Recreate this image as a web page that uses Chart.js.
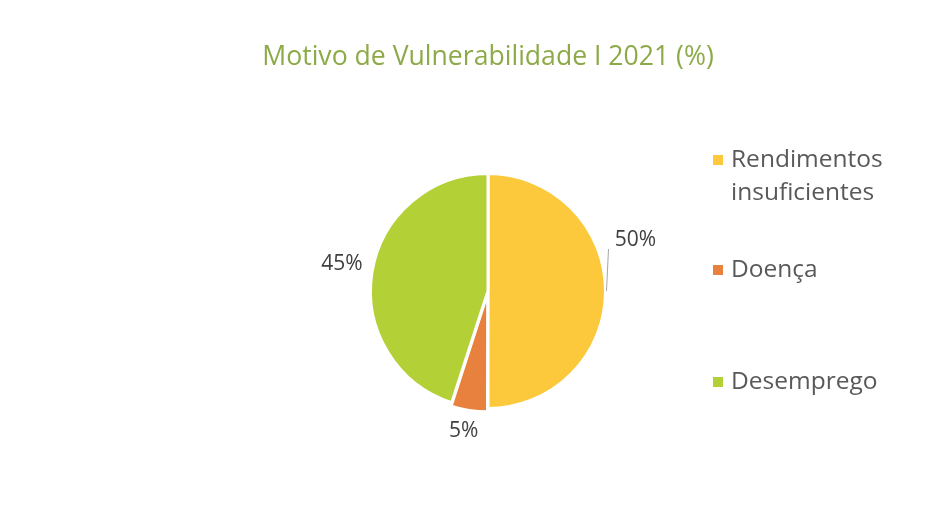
<!DOCTYPE html>
<html>
<head>
<meta charset="utf-8">
<script src="https://cdn.jsdelivr.net/npm/chart.js@4"></script>
<style>
  html, body { margin: 0; padding: 0; background: #fff; }
  #wrap { width: 948px; height: 521px; }
</style>
</head>
<body>
<div id="wrap"><canvas id="myChart" width="948" height="521"></canvas></div>
<script>
const categories = ['Rendimentos insuficientes', 'Doença', 'Desemprego'];
const legendLines = [['Rendimentos', 'insuficientes'], ['Doença'], ['Desemprego']];
const values = [50, 5, 45];
const sliceColors = ['#FCC83C', '#E8813D', '#B3D037'];
const chartTitle = 'Motivo de Vulnerabilidade I 2021 (%)';

// label offsets from the outer midpoint of each slice (style only)
const labelShift = [[30, -51], [-6, 24], [-30, -9]];
const legendY = [160, 270, 382];

const labelsPlugin = {
    id: 'labelsAndLegend',
    afterDraw(chart) {
        const ctx = chart.ctx;
        const meta = chart.getDatasetMeta(0);
        ctx.save();
        // title
        ctx.font = '26.6px "Open Sans"';
        ctx.fillStyle = '#8DAA48';
        ctx.textAlign = 'center';
        ctx.textBaseline = 'middle';
        ctx.fillText(chartTitle, 488, 57);

        ctx.font = '21px "Open Sans"';
        ctx.fillStyle = '#404040';
        meta.data.forEach((arc, i) => {
            const p = arc.getProps(['x', 'y', 'startAngle', 'endAngle', 'outerRadius'], true);
            const mid = (p.startAngle + p.endAngle) / 2;
            const ex = p.x + Math.cos(mid) * p.outerRadius;
            const ey = p.y + Math.sin(mid) * p.outerRadius;
            const lx = ex + labelShift[i][0];
            const ly = ey + labelShift[i][1];
            if (i === 0) {
                ctx.strokeStyle = '#a6a6a6';
                ctx.lineWidth = 1;
                ctx.beginPath();
                ctx.moveTo(lx - 27, ly + 9);
                ctx.lineTo(ex + 1, ey);
                ctx.stroke();
            }
            ctx.fillText(values[i] + '%', lx, ly);
        });

        // legend
        ctx.font = '24.5px "Open Sans"';
        ctx.textAlign = 'left';
        legendLines.forEach((lines, i) => {
            const y = legendY[i];
            ctx.fillStyle = sliceColors[i];
            ctx.fillRect(713, y - 5, 10, 10);
            ctx.fillStyle = '#595959';
            lines.forEach((t, k) => ctx.fillText(t, 731, y + k * 33));
        });
        ctx.restore();
    }
};

new Chart(document.getElementById('myChart').getContext('2d'), {
    type: 'pie',
    data: {
        labels: categories,
        datasets: [{
            data: values,
            backgroundColor: sliceColors,
            borderColor: '#ffffff',
            borderWidth: 3,
            offset: [0, 8, 0]
        }]
    },
    options: {
        responsive: false,
        animation: false,
        layout: { padding: { left: 300, right: 272, top: 168, bottom: 107 } },
        plugins: {
            legend: { display: false },
            tooltip: { enabled: false },
            title: { display: false }
        }
    },
    plugins: [labelsPlugin]
});
</script>
</body>
</html>
